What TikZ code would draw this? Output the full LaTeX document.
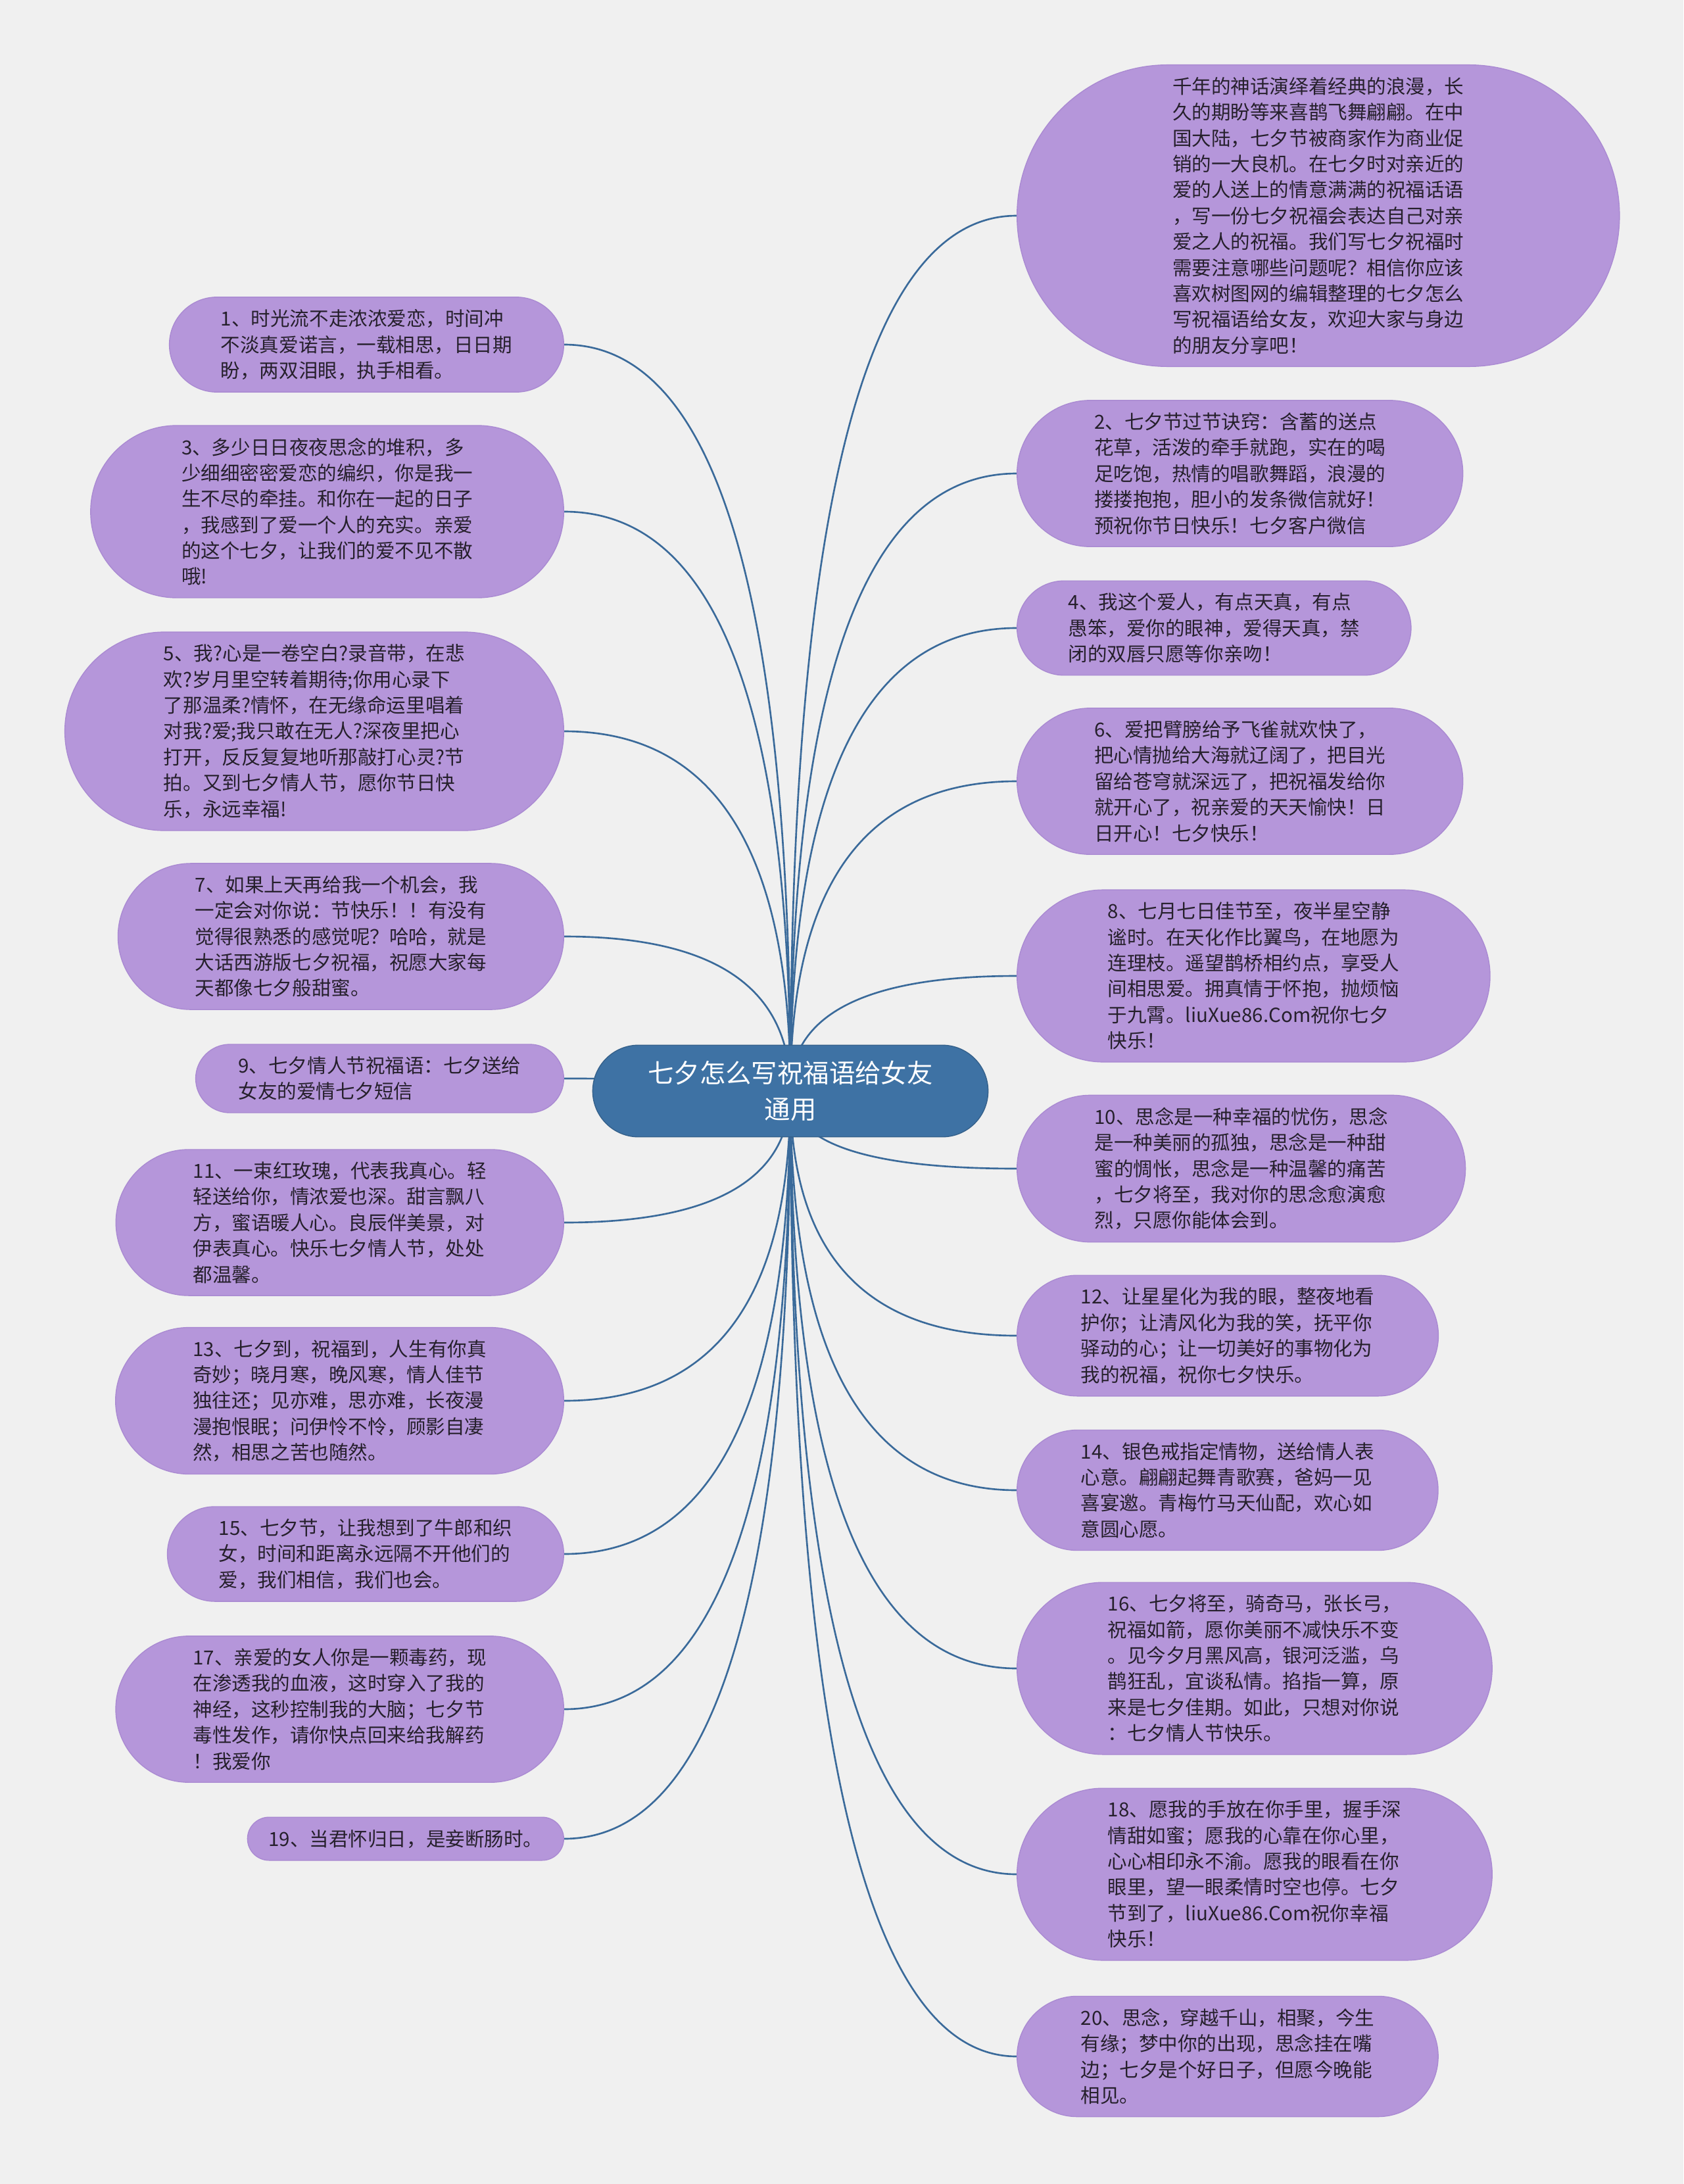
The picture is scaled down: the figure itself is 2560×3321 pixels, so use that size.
\documentclass[tikz,border=0pt]{standalone}
\usepackage{fontspec}
\newfontfamily\cjk{Noto Sans CJK SC}
\usetikzlibrary{shapes.misc,calc,backgrounds}

\definecolor{bgcol}{RGB}{240,240,240}
\definecolor{leaffill}{RGB}{181,150,218}
\definecolor{leafline}{RGB}{170,138,210}
\definecolor{hubfill}{RGB}{62,114,164}
\definecolor{linkcol}{RGB}{58,106,154}
\definecolor{inkcol}{RGB}{38,32,44}

\begin{document}
\begin{tikzpicture}[x=0.01cm,y=-0.01cm,
  leaf/.style={rounded rectangle, fill=leaffill, draw=leafline, line width=0.4pt,
    align=left, text=inkcol, inner xsep=#1, inner ysep=5.3pt,
    font=\cjk\fontsize{8.4}{11.2}\selectfont},
  leaf/.default=17pt,
  hub/.style={rounded rectangle, fill=hubfill, draw=hubfill!85!black, line width=0.4pt,
    align=center, text=white, inner xsep=19pt, inner ysep=6.8pt,
    font=\cjk\fontsize{11.2}{15.6}\selectfont},
  link/.style={draw=linkcol, line width=0.75pt}]
\def\rx{1546}
\def\lx{858}

\useasboundingbox (0,0) rectangle (2560,3321);

\node[hub] (c) at (1202,1659) {七夕怎么写祝福语给女友\\通用};

% right side
\node[leaf=27.8pt, anchor=west] (r0) at (\rx,328) {千年的神话演绎着经典的浪漫，长\\久的期盼等来喜鹊飞舞翩翩。在中\\国大陆，七夕节被商家作为商业促\\销的一大良机。在七夕时对亲近的\\爱的人送上的情意满满的祝福话语\\，写一份七夕祝福会表达自己对亲\\爱之人的祝福。我们写七夕祝福时\\需要注意哪些问题呢？相信你应该\\喜欢树图网的编辑整理的七夕怎么\\写祝福语给女友，欢迎大家与身边\\的朋友分享吧！};
\node[leaf=19.3pt, anchor=west] (r2) at (\rx,720) {2、七夕节过节诀窍：含蓄的送点\\花草，活泼的牵手就跑，实在的喝\\足吃饱，热情的唱歌舞蹈，浪漫的\\搂搂抱抱，胆小的发条微信就好！\\预祝你节日快乐！七夕客户微信};
\node[leaf=15.5pt, anchor=west] (r4) at (\rx,955) {4、我这个爱人，有点天真，有点\\愚笨，爱你的眼神，爱得天真，禁\\闭的双唇只愿等你亲吻！};
\node[leaf=19.3pt, anchor=west] (r6) at (\rx,1188) {6、爱把臂膀给予飞雀就欢快了，\\把心情抛给大海就辽阔了，把目光\\留给苍穹就深远了，把祝福发给你\\就开心了，祝亲爱的天天愉快！日\\日开心！七夕快乐！};
\node[leaf=21.2pt, anchor=west] (r8) at (\rx,1484) {8、七月七日佳节至，夜半星空静\\谧时。在天化作比翼鸟，在地愿为\\连理枝。遥望鹊桥相约点，享受人\\间相思爱。拥真情于怀抱，抛烦恼\\于九霄。liuXue86.Com祝你七夕\\快乐！};
\node[leaf=19.3pt, anchor=west] (r10) at (\rx,1777) {10、思念是一种幸福的忧伤，思念\\是一种美丽的孤独，思念是一种甜\\蜜的惆怅，思念是一种温馨的痛苦\\，七夕将至，我对你的思念愈演愈\\烈，只愿你能体会到。};
\node[leaf=17.3pt, anchor=west] (r12) at (\rx,2031) {12、让星星化为我的眼，整夜地看\\护你；让清风化为我的笑，抚平你\\驿动的心；让一切美好的事物化为\\我的祝福，祝你七夕快乐。};
\node[leaf=17.3pt, anchor=west] (r14) at (\rx,2266) {14、银色戒指定情物，送给情人表\\心意。翩翩起舞青歌赛，爸妈一见\\喜宴邀。青梅竹马天仙配，欢心如\\意圆心愿。};
\node[leaf=21.2pt, anchor=west] (r16) at (\rx,2537) {16、七夕将至，骑奇马，张长弓，\\祝福如箭，愿你美丽不减快乐不变\\。见今夕月黑风高，银河泛滥，乌\\鹊狂乱，宜谈私情。掐指一算，原\\来是七夕佳期。如此，只想对你说\\：七夕情人节快乐。};
\node[leaf=21.2pt, anchor=west] (r18) at (\rx,2850) {18、愿我的手放在你手里，握手深\\情甜如蜜；愿我的心靠在你心里，\\心心相印永不渝。愿我的眼看在你\\眼里，望一眼柔情时空也停。七夕\\节到了，liuXue86.Com祝你幸福\\快乐！};
\node[leaf=17.3pt, anchor=west] (r20) at (\rx,3127) {20、思念，穿越千山，相聚，今生\\有缘；梦中你的出现，思念挂在嘴\\边；七夕是个好日子，但愿今晚能\\相见。};

% left side
\node[leaf=15.5pt, anchor=east] (l1) at (\lx,524) {1、时光流不走浓浓爱恋，时间冲\\不淡真爱诺言，一载相思，日日期\\盼，两双泪眼，执手相看。};
\node[leaf=21.2pt, anchor=east] (l3) at (\lx,778) {3、多少日日夜夜思念的堆积，多\\少细细密密爱恋的编织，你是我一\\生不尽的牵挂。和你在一起的日子\\，我感到了爱一个人的充实。亲爱\\的这个七夕，让我们的爱不见不散\\哦!};
\node[leaf=20.5pt, anchor=east] (l5) at (\lx,1112) {5、我?心是一卷空白?录音带，在悲\\欢?岁月里空转着期待;你用心录下\\了那温柔?情怀，在无缘命运里唱着\\对我?爱;我只敢在无人?深夜里把心\\打开，反反复复地听那敲打心灵?节\\拍。又到七夕情人节，愿你节日快\\乐，永远幸福!};
\node[leaf=19.3pt, anchor=east] (l7) at (\lx,1424) {7、如果上天再给我一个机会，我\\一定会对你说：节快乐！！有没有\\觉得很熟悉的感觉呢？哈哈，就是\\大话西游版七夕祝福，祝愿大家每\\天都像七夕般甜蜜。};
\node[leaf=15pt, anchor=east] (l9) at (\lx,1640) {9、七夕情人节祝福语：七夕送给\\女友的爱情七夕短信};
\node[leaf=19.3pt, anchor=east] (l11) at (\lx,1859) {11、一束红玫瑰，代表我真心。轻\\轻送给你，情浓爱也深。甜言飘八\\方，蜜语暖人心。良辰伴美景，对\\伊表真心。快乐七夕情人节，处处\\都温馨。};
\node[leaf=19.3pt, anchor=east] (l13) at (\lx,2130) {13、七夕到，祝福到，人生有你真\\奇妙；晓月寒，晚风寒，情人佳节\\独往还；见亦难，思亦难，长夜漫\\漫抱恨眠；问伊怜不怜，顾影自凄\\然，相思之苦也随然。};
\node[leaf=15.5pt, anchor=east] (l15) at (\lx,2363) {15、七夕节，让我想到了牛郎和织\\女，时间和距离永远隔不开他们的\\爱，我们相信，我们也会。};
\node[leaf=19.3pt, anchor=east] (l17) at (\lx,2599) {17、亲爱的女人你是一颗毒药，现\\在渗透我的血液，这时穿入了我的\\神经，这秒控制我的大脑；七夕节\\毒性发作，请你快点回来给我解药\\！我爱你};
\node[leaf=8.2pt, anchor=east] (l19) at (\lx,2796) {19、当君怀归日，是妾断肠时。};

\begin{scope}[on background layer]
\fill[bgcol] (0,0) rectangle (2560,3321);
\foreach \n in {r0,r2,r4,r6,r8,r10,r12,r14,r16,r18,r20}
  \draw[link] (c.center) .. controls ($(c.center)!0.667!(c.center |- \n.west)$) and ($(\n.west)!0.667!(c.center |- \n.west)$) .. (\n.west);
\foreach \n in {l1,l3,l5,l7,l9,l11,l13,l15,l17,l19}
  \draw[link] (c.center) .. controls ($(c.center)!0.667!(c.center |- \n.east)$) and ($(\n.east)!0.667!(c.center |- \n.east)$) .. (\n.east);
\end{scope}

\end{tikzpicture}
\end{document}
